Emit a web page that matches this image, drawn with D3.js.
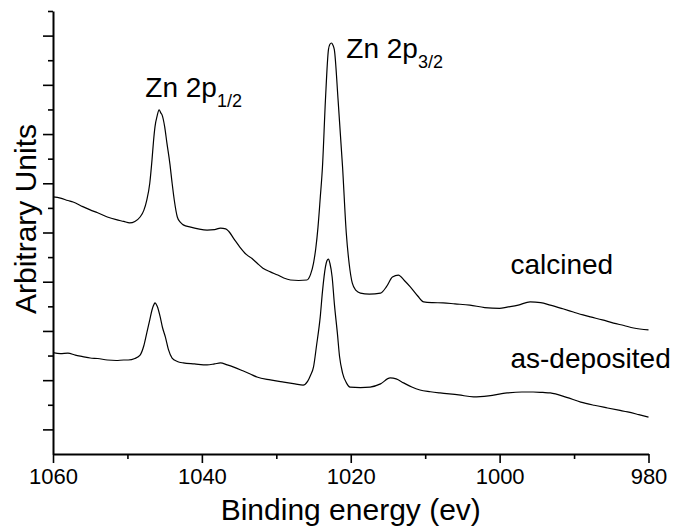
<!DOCTYPE html>
<html>
<head>
<meta charset="utf-8">
<script src="https://cdn.jsdelivr.net/npm/d3@7"></script>
<style>
  html, body { margin: 0; padding: 0; background: #fff; }
  svg { display: block; font-family: "Liberation Sans", Arial, sans-serif; }
</style>
</head>
<body>
<svg id="chart" width="680" height="530"></svg>
<script>
// ---- data ----
const calcinedEnergy = [1060.0,1059.0,1058.0,1057.3,1056.0,1055.0,1054.0,1052.7,1051.5,1050.5,1049.7,1049.0,1048.3,1047.8,1047.4,1047.0,1046.7,1046.5,1046.3,1046.0,1045.75,1045.5,1045.35,1045.0,1044.7,1044.3,1044.0,1043.7,1043.3,1042.9,1042.5,1041.5,1040.5,1039.3,1038.3,1037.5,1036.8,1036.4,1035.6,1034.9,1034.0,1033.3,1032.6,1031.8,1030.8,1029.8,1029.0,1028.1,1027.0,1025.9,1025.4,1025.0,1024.7,1024.4,1024.1,1023.8,1023.4,1023.0,1022.8,1022.6,1022.4,1022.2,1021.7,1021.1,1020.6,1020.2,1019.8,1019.3,1018.7,1017.5,1016.0,1015.2,1014.4,1013.6,1012.8,1012.0,1011.0,1010.2,1009.0,1007.6,1006.0,1004.0,1002.0,1000.0,999.0,997.5,995.9,994.5,993.2,991.5,990.1,988.8,987.8,986.2,984.7,983.3,982.0,980.0];
const calcinedValue = [10.45,10.40,10.30,10.24,10.05,9.92,9.80,9.63,9.52,9.45,9.39,9.45,9.63,9.90,10.32,11.0,11.95,12.7,13.29,13.75,13.98,13.85,13.78,13.3,12.64,11.8,11.01,10.3,9.63,9.42,9.31,9.22,9.15,9.10,9.12,9.18,9.15,9.05,8.70,8.41,8.10,7.95,7.76,7.55,7.40,7.27,7.15,7.07,7.05,7.07,7.30,7.76,8.35,9.22,10.4,11.66,14.38,16.42,16.65,16.70,16.62,16.42,14.38,11.66,8.98,7.70,6.95,6.65,6.54,6.50,6.54,6.80,7.19,7.27,7.05,6.79,6.42,6.18,6.15,6.14,6.10,6.05,5.95,5.92,5.97,6.05,6.18,6.15,6.05,5.90,5.77,5.65,5.57,5.45,5.32,5.22,5.12,5.04];

const depositedEnergy = [1060.0,1059.0,1058.0,1057.0,1056.0,1055.0,1054.0,1052.7,1051.5,1050.5,1049.9,1049.0,1048.3,1047.8,1047.4,1047.0,1046.7,1046.4,1046.3,1046.0,1045.6,1045.3,1044.9,1044.5,1044.0,1043.3,1042.5,1041.0,1039.3,1038.3,1037.5,1036.6,1035.8,1034.5,1033.5,1032.6,1030.8,1029.0,1027.5,1026.4,1025.8,1025.4,1025.0,1024.6,1024.1,1023.8,1023.4,1023.2,1023.0,1022.8,1022.5,1022.2,1021.8,1021.5,1021.1,1020.6,1020.1,1018.7,1017.4,1016.0,1014.7,1013.9,1012.9,1011.8,1010.7,1009.3,1008.0,1005.5,1003.5,1001.5,999.0,997.0,995.5,994.2,993.2,991.0,989.1,987.3,985.5,984.0,982.8,981.3,980.0];
const depositedValue = [4.12,4.08,4.10,4.02,3.96,3.90,3.88,3.82,3.80,3.82,3.82,3.88,4.02,4.40,4.92,5.45,5.85,6.10,6.14,6.00,5.57,5.15,4.75,4.25,3.90,3.76,3.70,3.66,3.62,3.66,3.70,3.62,3.54,3.38,3.25,3.13,3.01,2.92,2.85,2.80,2.95,3.20,3.54,4.40,5.57,6.60,7.60,7.85,7.92,7.75,7.19,6.1,4.92,3.95,3.29,2.90,2.72,2.70,2.72,2.85,3.09,3.05,2.89,2.72,2.60,2.53,2.48,2.40,2.32,2.36,2.48,2.52,2.52,2.50,2.48,2.30,2.11,1.98,1.87,1.78,1.71,1.60,1.50];

const xMajorTicks = [1060, 1040, 1020, 1000, 980];
const xMinorTicks = [1050, 1030, 1010, 990];
const yMajorTicks = [1, 3, 5, 7, 9, 11, 13, 15, 17];
const yMinorTicks = [2, 4, 6, 8, 10, 12, 14, 16, 18];

const xDomain = [1060, 980];
const yDomain = [0, 18];

const xTitle = "Binding energy (ev)";
const yTitle = "Arbitrary Units";

// ---- layout ----
const svg = d3.select("#chart");
const mLeft = 53, mRight = 648.5, mTop = 11, mBottom = 454;

const x = d3.scaleLinear().domain(xDomain).range([mLeft, mRight]);
const y = d3.scaleLinear().domain(yDomain).range([mBottom, mTop]);

// axes
const gx = svg.append("g").attr("transform", `translate(0,${mBottom})`);
gx.call(d3.axisBottom(x).tickValues(xMinorTicks).tickSize(5).tickFormat(""));
gx.call(g => g.select(".domain").remove());
const gxM = svg.append("g").attr("transform", `translate(0,${mBottom})`);
gxM.call(d3.axisBottom(x).tickValues(xMajorTicks).tickSize(9).tickSizeOuter(0).tickPadding(5).tickFormat(d3.format("d")));
gxM.selectAll("text").attr("font-size", 22).attr("fill", "#000")
   .attr("font-family", "'Liberation Sans', Arial, sans-serif");

const gy = svg.append("g").attr("transform", `translate(${mLeft},0)`);
gy.call(d3.axisLeft(y).tickValues(yMinorTicks).tickSize(5).tickFormat(""));
gy.call(g => g.select(".domain").remove());
const gyM = svg.append("g").attr("transform", `translate(${mLeft},0)`);
gyM.call(d3.axisLeft(y).tickValues(yMajorTicks).tickSize(10).tickSizeOuter(0).tickFormat(""));

svg.selectAll(".domain").attr("stroke", "#000").attr("stroke-width", 2);
svg.selectAll(".tick line").attr("stroke", "#000").attr("stroke-width", 1.6);

// series
const line = d3.line()
  .x(d => x(d[0]))
  .y(d => y(d[1]))
  .curve(d3.curveMonotoneX);

const calcined = d3.zip(calcinedEnergy, calcinedValue);
const deposited = d3.zip(depositedEnergy, depositedValue);

svg.append("path").datum(calcined).attr("d", line)
  .attr("fill", "none").attr("stroke", "#000").attr("stroke-width", 1.2);
svg.append("path").datum(deposited).attr("d", line)
  .attr("fill", "none").attr("stroke", "#000").attr("stroke-width", 1.2);

// annotations
function peakLabel(ex, val, sub) {
  const t = svg.append("text")
    .attr("x", x(ex)).attr("y", y(val))
    .attr("font-size", 28).attr("fill", "#000");
  t.append("tspan").text("Zn 2p");
  t.append("tspan").attr("font-size", 18).attr("dy", 10).text(sub);
}
peakLabel(1047.6, 14.5, "1/2");
peakLabel(1020.6, 16.09, "3/2");

svg.append("text").attr("x", x(998.55)).attr("y", y(7.31))
  .attr("font-size", 28).attr("fill", "#000").text("calcined");
svg.append("text").attr("x", x(998.55)).attr("y", y(3.49))
  .attr("font-size", 28).attr("fill", "#000").text("as-deposited");

// axis titles
svg.append("text").attr("x", (mLeft + mRight) / 2).attr("y", 520)
  .attr("text-anchor", "middle").attr("font-size", 30).attr("fill", "#000")
  .text(xTitle);
svg.append("text").attr("transform", "translate(36,219) rotate(-90)")
  .attr("text-anchor", "middle").attr("font-size", 30).attr("fill", "#000")
  .text(yTitle);
</script>
</body>
</html>
